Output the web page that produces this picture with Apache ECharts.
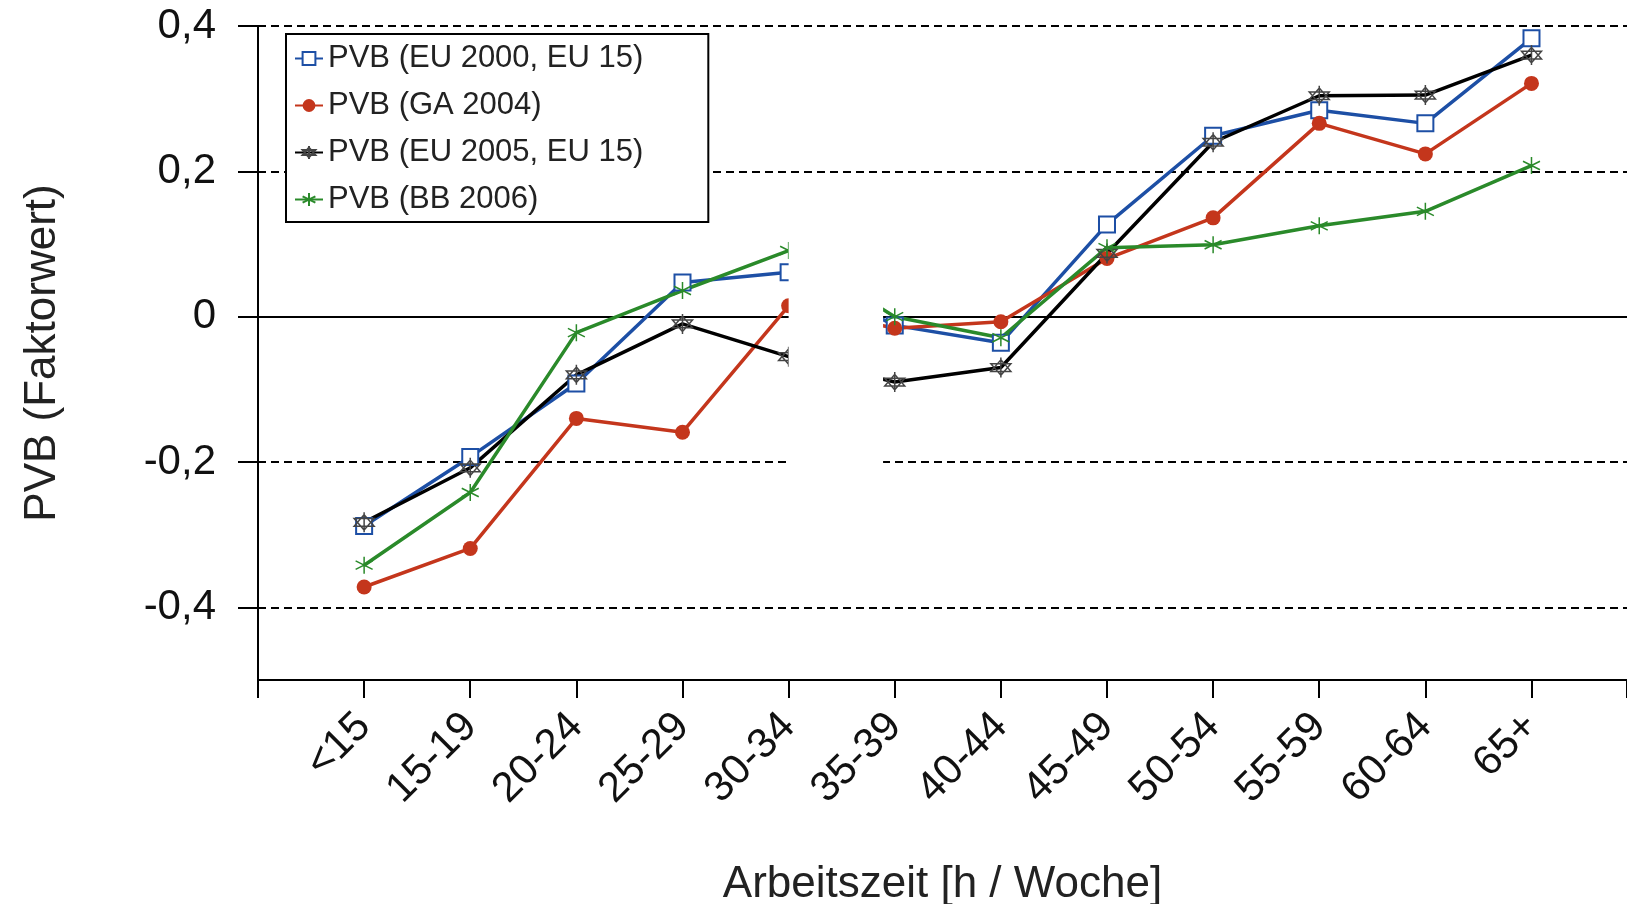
<!DOCTYPE html>
<html>
<head>
<meta charset="utf-8">
<script src="https://cdn.jsdelivr.net/npm/echarts@6/dist/echarts.min.js"></script>
<style>
html,body{margin:0;padding:0;background:#fff;}
#chart{width:1627px;height:904px;}
</style>
</head>
<body>
<div id="chart"></div>
<script>
// ---- data ----
const categories = ['<15','15-19','20-24','25-29','30-34','35-39','40-44','45-49','50-54','55-59','60-64','65+'];
const seriesNames = ['PVB (EU 2000, EU 15)','PVB (GA 2004)','PVB (EU 2005, EU 15)','PVB (BB 2006)'];
const eu2000 = [-0.288,-0.193,-0.092,0.047,0.061,-0.012,-0.036,0.127,0.249,0.284,0.266,0.383];
const ga2004 = [-0.372,-0.319,-0.140,-0.159,0.015,-0.016,-0.007,0.080,0.136,0.266,0.224,0.321];
const eu2005 = [-0.283,-0.208,-0.080,-0.010,-0.055,-0.090,-0.070,0.087,0.240,0.304,0.305,0.360];
const bb2006 = [-0.342,-0.242,-0.022,0.036,0.091,0.000,-0.029,0.095,0.099,0.125,0.145,0.208];
const yTickValues = [-0.4,-0.2,0,0.2,0.4];
const yTickLabels = ['-0,4','-0,2','0','0,2','0,4'];
const xAxisName = 'Arbeitszeit [h / Woche]';
const yAxisName = 'PVB (Faktorwert)';
// break mask between 30-34 and 35-39 (data space)
const breakX = [5.0, 5.89];
const breakY = [-0.3, 0.16];

const toPairs = arr => arr.map((v, i) => [i + 1, v]);
const FONT = 'Liberation Sans, Arial, sans-serif';

const colors = ['#1d4fa5', '#c4361c', '#000000', '#2a8a2a'];
const starPath = 'path://M0,-10 L8.66,5 L-8.66,5 Z M0,10 L8.66,-5 L-8.66,-5 Z M0,-13 L0,13';
const greenPath = 'path://M0,-10 L0,10 M-8,-5 L8,5 M-8,5 L8,-5';

const chart = echarts.init(document.getElementById('chart'), null, {renderer: 'canvas'});

const mkSeries = (name, data, color, symbol, size, extraItem) => ({
  name: name,
  type: 'line',
  data: toPairs(data),
  symbol: symbol,
  symbolSize: size,
  z: 2,
  lineStyle: {color: color, width: 3.5},
  itemStyle: Object.assign({color: color}, extraItem || {}),
  emphasis: {disabled: true},
  animation: false
});

const option = {
  animation: false,
  backgroundColor: '#fff',
  textStyle: {fontFamily: FONT},
  grid: {left: 258, right: 0, top: 26, bottom: 224, containLabel: false, outerBoundsMode: 'none'},
  legend: {
    orient: 'vertical',
    left: 286,
    top: 34,
    padding: [9, 65, 7, 8],
    itemGap: 16,
    itemWidth: 28,
    itemHeight: 16,
    backgroundColor: '#fff',
    borderColor: '#000',
    borderWidth: 2,
    borderRadius: 0,
    z: 20,
    textStyle: {fontFamily: FONT, fontSize: 31, color: '#222', padding: [0,0,0,0]},
    data: seriesNames
  },
  xAxis: {
    type: 'value',
    min: 0,
    max: 12.9,
    interval: 1,
    name: xAxisName,
    nameLocation: 'middle',
    nameGap: 183,
    nameTextStyle: {fontFamily: FONT, fontSize: 44, color: '#222'},
    axisLine: {show: true, onZero: false, lineStyle: {color: '#000', width: 2}},
    axisTick: {show: true, length: 18, lineStyle: {color: '#000', width: 2}},
    splitLine: {show: false},
    axisLabel: {
      rotate: 45,
      margin: 40,
      fontFamily: FONT,
      fontSize: 42,
      color: '#111',
      showMinLabel: true,
      showMaxLabel: true,
      formatter: v => (Number.isInteger(v) && v >= 1 && v <= categories.length) ? categories[v - 1] : ''
    }
  },
  yAxis: {
    type: 'value',
    min: -0.5,
    max: 0.4,
    name: yAxisName,
    nameLocation: 'middle',
    nameGap: 193,
    nameTextStyle: {fontFamily: FONT, fontSize: 44, color: '#222'},
    axisLine: {show: true, onZero: false, lineStyle: {color: '#000', width: 2}},
    axisTick: {show: true, length: 20, customValues: yTickValues, lineStyle: {color: '#000', width: 2}},
    splitLine: {show: false},
    axisLabel: {
      margin: 42,
      fontFamily: FONT,
      fontSize: 42,
      color: '#111',
      customValues: yTickValues,
      formatter: v => {
        const i = yTickValues.findIndex(t => Math.abs(t - v) < 1e-9);
        return i >= 0 ? yTickLabels[i] : '';
      }
    }
  },
  series: [
    {
      name: 'grid-lines',
      type: 'line',
      data: [],
      silent: true,
      markLine: {
        silent: true,
        z: 1,
        symbol: ['none', 'none'],
        label: {show: false},
        animation: false,
        data: yTickValues.map(v => ({
          yAxis: v,
          lineStyle: {color: '#000', width: 2, type: v === 0 ? 'solid' : [8, 5]}
        }))
      }
    },
    mkSeries(seriesNames[0], eu2000, colors[0], 'emptyRect', 16, {borderWidth: 2}),
    mkSeries(seriesNames[1], ga2004, colors[1], 'circle', 15),
    mkSeries(seriesNames[2], eu2005, colors[2], starPath, 20, {color: 'rgba(0,0,0,0)', borderColor: '#444', borderWidth: 1.5}),
    mkSeries(seriesNames[3], bb2006, colors[3], greenPath, 17, {color: 'rgba(0,0,0,0)', borderColor: colors[3], borderWidth: 1.5}),
    {
      name: 'axis-break',
      type: 'line',
      data: [],
      silent: true,
      markArea: {
        silent: true,
        z: 10,
        itemStyle: {color: '#fff', borderWidth: 0},
        label: {show: false},
        data: [[{xAxis: breakX[0], yAxis: breakY[0]}, {xAxis: breakX[1], yAxis: breakY[1]}]]
      }
    }
  ]
};

chart.setOption(option);
</script>
</body>
</html>
